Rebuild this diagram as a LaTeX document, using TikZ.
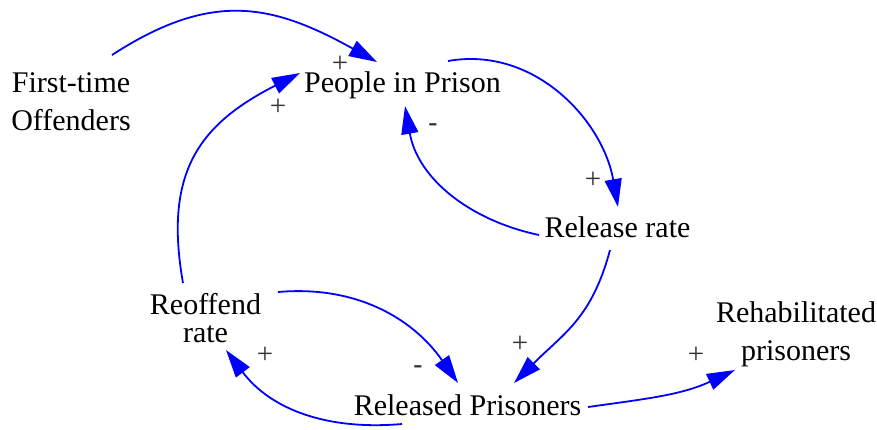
\documentclass[tikz,border=0pt]{standalone}
\usepackage{fontspec}
\setmainfont{Liberation Serif}
\setsansfont{Liberation Sans}
\usetikzlibrary{arrows.meta}

\begin{document}
\begin{tikzpicture}
[x=1pt,y=1pt,
  varDecorate/.style={inner sep=0pt,align=center,font=\fontsize{30}{38}\selectfont},%
  lineVar/.style={varDecorate,text height=20.5pt,text depth=6.5pt},%
  linkDecorate/.style={-{Triangle[length=28pt,width=17pt]},draw=blue,line width=1.8pt},%
  signDecorate/.style={inner sep=0pt,text=black!80,font=\fontsize{29}{29}\selectfont}]
\useasboundingbox (0,0) rectangle (877,-429);
%% variables
\foreach \nodename/\x/\y/\txt in {people/402.5/85/People in Prison, release/617.5/230/Release rate, released/467.5/408/Released Prisoners}
{
  \node (\nodename) at (\x,-\y) [lineVar] {\txt};
}
\foreach \nodename/\x/\y/\txt in {first/71/102/{First-time\\Offenders}, reoffend/205.5/318/{Reoffend\\[-10pt]rate}, rehab/796/334.5/{Rehabilitated\\prisoners}}
{
  \node (\nodename) at (\x,-\y) [varDecorate] {\txt};
}
%% causal links
\path
\foreach \startnode/\sx/\sy/\endnode/\ex/\ey/\outang/\inang/\loose in {%
  first/41/47/people/-25.5/23/33/151/1.15,
  reoffend/-22.5/35/people/-102.5/12/100/207/1.2,
  people/45.5/24/release/0.5/23/10/100/1,
  release/-78.5/-5/people/2.5/-21/168/280/1,
  release/-7.5/-20/released/46.5/25/255/45/1.1,
  reoffend/72.5/26/released/-9.5/25/5/125/1,
  released/-65.5/-16/reoffend/20.5/-32/185/307/1,
  released/120.5/1/rehab/-61/-35.5/8/205/1} {
  ([shift={(\sx,\sy)}]\startnode.center) edge[linkDecorate,out=\outang,in=\inang,looseness=\loose] ([shift={(\ex,\ey)}]\endnode.center)
};
%% polarities
\foreach \signname/\x/\y/\s in {s1/340/64/+, s2/278/107/+, s3/433/128/{\sffamily -}, s4/593/180/+, s5/520/344/+, s6/418/370/{\sffamily -}, s7/265/355/+, s8/696/355/+}
{
  \node (\signname) at (\x,-\y) [signDecorate] {\s};
}
\end{tikzpicture}
\end{document}
